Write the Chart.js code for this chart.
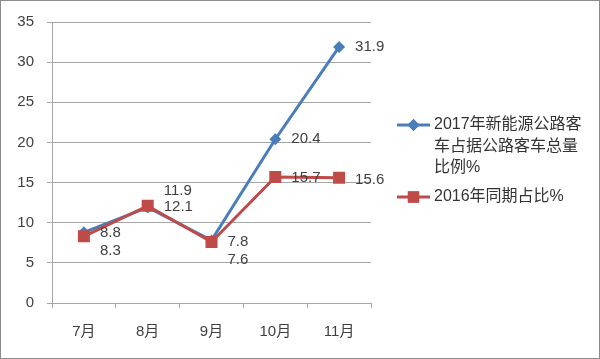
<!DOCTYPE html>
<html><head><meta charset="utf-8">
<script src="https://cdn.jsdelivr.net/npm/chart.js@4/dist/chart.umd.min.js"></script>
<style>html,body{margin:0;padding:0;background:#fff}#wrap{width:600px;height:359px;position:relative}</style>
</head><body><div id="wrap"><canvas id="c" width="600" height="359"></canvas></div>
<script>
const categories = ['7月','8月','9月','10月','11月'];
const series2017 = [8.8, 11.9, 7.8, 20.4, 31.9];
const series2016 = [8.3, 12.1, 7.6, 15.7, 15.6];
const legend2017 = ['2017年新能源公路客','车占据公路客车总量','比例%'];
const legend2016 = ['2016年同期占比%'];
const yTicks = [0,5,10,15,20,25,30,35];

const BLUE = '#4A7EBB', RED = '#BE4B48';
const FONT = '"Liberation Sans", "Noto Sans CJK SC", sans-serif';
// label vertical offsets (style)
const labelDy = [[1,-17,1,0,0],[14,1,18,1,2]];

const framePlugin = {
  id:'frame',
  beforeDraw(chart){
    const ctx = chart.ctx; ctx.save();
    ctx.fillStyle='#fff'; ctx.fillRect(0,0,600,359);
    ctx.strokeStyle='#8c8c8c'; ctx.lineWidth=1; ctx.strokeRect(0.5,0.5,599,358);
    ctx.restore();
  }
};
const labelsPlugin = {
  id:'vlabels',
  afterDatasetsDraw(chart){
    const ctx = chart.ctx; ctx.save();
    ctx.font = '15px ' + FONT; ctx.fillStyle='#404040';
    ctx.textAlign='left'; ctx.textBaseline='middle';
    chart.data.datasets.forEach((ds,di)=>{
      const meta = chart.getDatasetMeta(di);
      meta.data.forEach((pt,i)=>{
        ctx.fillText(String(ds.data[i]), pt.x+16, pt.y+labelDy[di][i]);
      });
    });
    ctx.restore();
  }
};
const legendPlugin = {
  id:'customLegend',
  afterDraw(chart){
    const ctx = chart.ctx; ctx.save();
    const items = [{lines:legend2017,color:BLUE,style:'rectRot',r:6,y:125},{lines:legend2016,color:RED,style:'rect',r:8,y:197}];
    ctx.font = '16px ' + FONT; ctx.textBaseline='middle'; ctx.textAlign='left';
    items.forEach(it=>{
      ctx.strokeStyle=it.color; ctx.lineWidth=3;
      ctx.beginPath(); ctx.moveTo(397,it.y); ctx.lineTo(430,it.y); ctx.stroke();
      ctx.fillStyle=it.color;
      Chart.helpers.drawPoint(ctx,{pointStyle:it.style,radius:it.r,borderWidth:0},413.5,it.y);
      ctx.fill();
      ctx.fillStyle='#333';
      it.lines.forEach((t,k)=>ctx.fillText(t,434,it.y+k*21.5));
    });
    ctx.restore();
  }
};

new Chart(document.getElementById('c'),{
  type:'line',
  data:{labels:categories,datasets:[
    {label:legend2017.join(''),data:series2017,borderColor:BLUE,backgroundColor:BLUE,borderWidth:3,pointStyle:'rectRot',pointRadius:6,pointBorderWidth:0,pointBackgroundColor:BLUE,tension:0,order:1},
    {label:legend2016.join(''),data:series2016,borderColor:RED,backgroundColor:RED,borderWidth:3,pointStyle:'rect',pointRadius:8.5,pointBorderWidth:0,pointBackgroundColor:RED,tension:0,order:0}
  ]},
  options:{
    responsive:false,animation:false,devicePixelRatio:1,
    layout:{padding:{left:0,top:19,right:229,bottom:0}},
    plugins:{legend:{display:false},tooltip:{enabled:false}},
    scales:{
      x:{type:'category',offset:true,
        grid:{offset:true,drawOnChartArea:false,drawTicks:true,tickLength:5,color:'#a6a6a6'},
        border:{color:'#a6a6a6',width:1},
        ticks:{font:{size:15,family:FONT},color:'#404040',padding:15,maxRotation:0},
        afterFit(s){s.height=56;}
      },
      y:{min:0,max:35,
        afterBuildTicks(s){s.ticks=yTicks.map(v=>({value:v}));},
        grid:{color:'#a6a6a6',tickLength:5,drawTicks:true},
        border:{color:'#a6a6a6',width:1},
        ticks:{font:{size:15,family:FONT},color:'#404040',padding:13},
        afterFit(s){s.width=52;}
      }
    }
  },
  plugins:[framePlugin,labelsPlugin,legendPlugin]
});
</script></body></html>
